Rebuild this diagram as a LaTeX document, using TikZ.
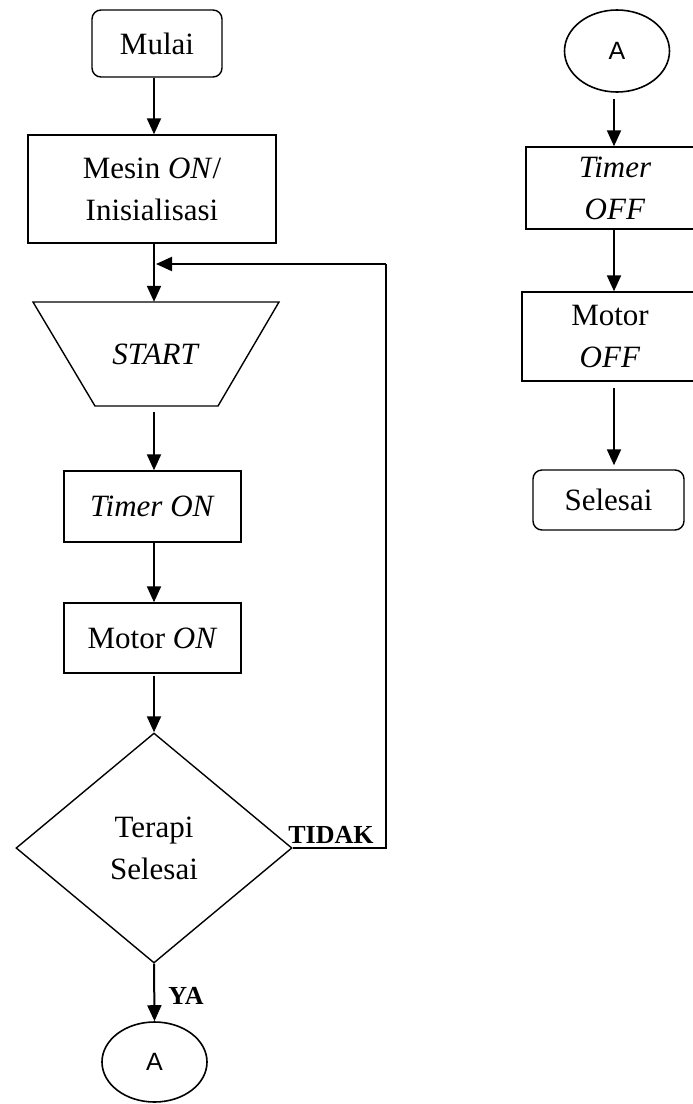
\documentclass[tikz,border=0pt]{standalone}
\usepackage{fontspec}
\setmainfont{Liberation Serif}
\newfontfamily\sansA{Liberation Sans}
\usetikzlibrary{shapes.geometric,arrows.meta,calc}
\begin{document}
\begin{tikzpicture}[x=1pt,y=-1pt,
  every node/.style={font=\fontsize{31}{42}\selectfont, inner sep=0pt, align=center},
  procbox/.style={draw, line width=1.4pt, rectangle},
  termbox/.style={draw, line width=1.4pt, rectangle, rounded corners=9pt},
  conn/.style={draw, ellipse, line width=1.6pt, font=\sansA\fontsize{25}{28}\selectfont},
  decbox/.style={draw, diamond, line width=1.4pt},
  arr/.style={line width=2pt, -{Triangle[length=16pt,width=14pt]}},
  loopline/.style={line width=1.8pt},
  lbl/.style={font=\bfseries\fontsize{26}{28}\selectfont}
]
\useasboundingbox (0,0) rectangle (693,1104);
% left column
\node[termbox, minimum width=130pt, minimum height=67pt] (mulai) at (157,43.5) {Mulai};
\node[procbox, minimum width=248pt, minimum height=108pt] (mesin) at (152,189) {Mesin \textit{ON}/\\Inisialisasi};
\node[minimum width=246pt, minimum height=104pt] (start) at (156,354) {\textit{START}};
\draw[line width=1.4pt] ($(start.center)+(-123,-52)$) -- ($(start.center)+(123,-52)$)
  -- ($(start.center)+(62,52)$) -- ($(start.center)+(-61,52)$) -- cycle;
\node[procbox, minimum width=177pt, minimum height=71pt] (timeron) at (152.5,506.5) {\textit{Timer ON}};
\node[procbox, minimum width=177pt, minimum height=70pt] (motoron) at (152.5,638) {Motor \textit{ON}};
\node[decbox, minimum width=276pt, minimum height=230pt] (terapi) at (154,848) {Terapi\\Selesai};
\node[conn, minimum width=105pt, minimum height=80pt] (aone) at (154.5,1062) {A};
\node[lbl] (tidak) at (331,835) {TIDAK};
\node[lbl] (ya) at (186,996) {YA};
\coordinate (join) at (154,264);
\coordinate (loopr) at (386,848);
% right column
\node[conn, minimum width=105pt, minimum height=82pt] (atwo) at (617,51) {A};
\node[procbox, minimum width=178pt, minimum height=82pt] (timeroff) at (615,188) {\textit{Timer}\\\textit{OFF}};
\node[procbox, minimum width=176pt, minimum height=89pt] (motoroff) at (610,336.5) {Motor\\\textit{OFF}};
\node[termbox, minimum width=151pt, minimum height=60pt] (selesai) at (608.5,500) {Selesai};
% connectors left
\draw[arr] (mulai.south -| 154,0) -- (mesin.north -| 154,0);
\draw[arr] (mesin.south -| 154,0) -- (start.north -| 154,0);
\draw[arr, shorten <=6pt] (start.south -| 154,0) -- (timeron.north -| 154,0);
\draw[arr] (timeron.south -| 154,0) -- (motoron.north -| 154,0);
\draw[arr, shorten <=2pt] (motoron.south -| 154,0) -- (terapi.north);
\draw[arr] (terapi.south) -- (aone.north);
\draw[loopline] (terapi.east) -- (loopr) -- (loopr |- join);
\draw[arr] (loopr |- join) -- ([xshift=2pt]join);
% connectors right
\draw[arr, shorten <=6pt] (atwo.south -| 614,0) -- (timeroff.north -| 614,0);
\draw[arr] (timeroff.south -| 614,0) -- (motoroff.north -| 614,0);
\draw[arr, shorten <=6pt, shorten >=4pt] (motoroff.south -| 614,0) -- (selesai.north -| 614,0);
\end{tikzpicture}
\end{document}
